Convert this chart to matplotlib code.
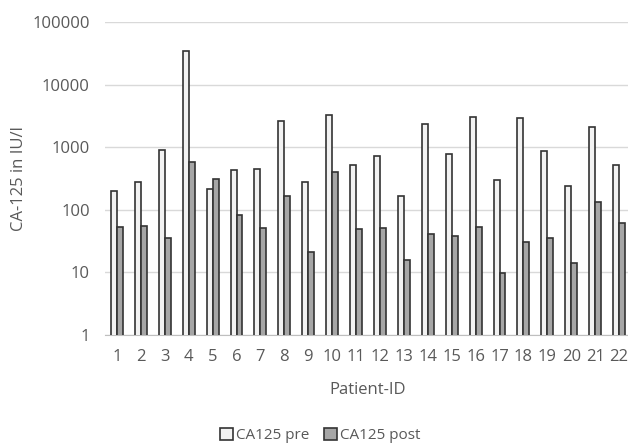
import matplotlib.pyplot as plt
import numpy as np

# CA-125 vor und nach Therapie, pro Patient
patient_ids = [str(i) for i in range(1, 23)]
ca125_pre = [200, 280, 890, 34000, 217, 440, 456, 2620, 273, 3220, 523, 716,
             168, 2380, 782, 3070, 294, 2880, 873, 238, 2080, 523]
ca125_post = [53, 56, 35, 575, 305, 84, 51, 164, 21, 409, 49, 51,
              16, 41, 38, 54, 9.8, 31, 35, 14, 135, 61]

plt.rcParams['font.family'] = ['Open Sans', 'DejaVu Sans']
grau_text = '#595959'

fig = plt.figure(figsize=(6.28, 4.46), dpi=100)
ax = fig.add_axes([105 / 628, 111 / 446, 526 / 628, 313 / 446])

x = np.arange(1, len(patient_ids) + 1)
breite = 0.25
ax.bar(x - breite / 2, ca125_pre, breite, color='#f2f2f2', edgecolor='#333333',
       linewidth=1.2, label='CA125 pre', zorder=3)
ax.bar(x + breite / 2, ca125_post, breite, color='#a6a6a6', edgecolor='#333333',
       linewidth=1.2, label='CA125 post', zorder=3)

ax.set_yscale('log')
ax.set_ylim(1, 100000)
ax.set_xlim(0.5, len(patient_ids) + 0.5)
ax.set_yticks([1, 10, 100, 1000, 10000, 100000])
ax.set_yticklabels(['1', '10', '100', '1000', '10000', '100000'])
ax.yaxis.set_minor_locator(plt.NullLocator())
ax.set_xticks(x)
ax.set_xticklabels(patient_ids)

ax.grid(axis='y', color='#d9d9d9', linewidth=1.0, zorder=0)
for s in ['top', 'right', 'left']:
    ax.spines[s].set_visible(False)
ax.spines['bottom'].set_color('#bfbfbf')
ax.tick_params(axis='both', length=0, labelsize=12, colors=grau_text)
ax.tick_params(axis='x', pad=10)
ax.tick_params(axis='y', pad=11)

ax.set_xlabel('Patient-ID', fontsize=12, color=grau_text, labelpad=12)
ax.set_ylabel('CA-125 in IU/l', fontsize=12, color=grau_text)
ax.yaxis.set_label_coords(-0.148, 0.5)

fig.legend(loc='lower center', bbox_to_anchor=(0.51, -0.025), ncol=2, frameon=False,
           fontsize=11, labelcolor=grau_text, handlelength=0.8, handleheight=0.8,
           handletextpad=0.2, columnspacing=1.0)

plt.savefig('out.png', dpi=100)
